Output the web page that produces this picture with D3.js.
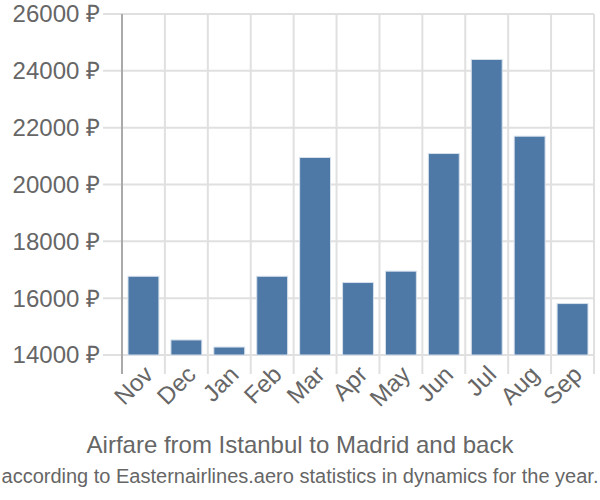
<!DOCTYPE html>
<html><head><meta charset="utf-8">
<script src="https://cdn.jsdelivr.net/npm/d3@7"></script>
<style>body{margin:0;background:#fff;} text{font-family:"Liberation Sans",Arial,sans-serif;fill:#666;}</style>
</head><body><svg id="c" width="600" height="500"></svg>
<script>
const months = ["Nov","Dec","Jan","Feb","Mar","Apr","May","Jun","Jul","Aug","Sep"];
const prices = [16770,14530,14280,16770,20950,16550,16950,21090,24400,21700,15810];
const yTicks = [14000,16000,18000,20000,22000,24000,26000];
const title = "Airfare from Istanbul to Madrid and back";
const subtitle = "according to Easternairlines.aero statistics in dynamics for the year.";

const svg = d3.select("#c");
const L=122, R=594, T=14, B=355;
const x = d3.scaleBand().domain(months).range([L,R]).paddingInner(0.28).paddingOuter(0.14);
const xg = d3.scaleBand().domain(months).range([L,R]);
const y = d3.scaleLinear().domain([14000,26000]).range([B,T]);

// horizontal grid
svg.append("g").selectAll("line").data(yTicks).join("line")
  .attr("x1",103).attr("x2",R).attr("y1",d=>y(d)).attr("y2",d=>y(d))
  .attr("stroke","#e0e0e0").attr("stroke-width",2);
// vertical grid
const vx = months.map(m=>xg(m)).concat([R]);
svg.append("g").selectAll("line").data(vx.slice(1)).join("line")
  .attr("x1",d=>d).attr("x2",d=>d).attr("y1",T).attr("y2",374)
  .attr("stroke","#e0e0e0").attr("stroke-width",2);
// left axis line
svg.append("line").attr("x1",L).attr("x2",L).attr("y1",T).attr("y2",374)
  .attr("stroke","#aaa").attr("stroke-width",2);

// bars
svg.append("g").selectAll("rect").data(months).join("rect")
  .attr("x",d=>x(d)).attr("width",x.bandwidth())
  .attr("y",(d,i)=>y(prices[i])).attr("height",(d,i)=>B-y(prices[i]))
  .attr("fill","#4e79a7").attr("stroke","#d5e0ec").attr("stroke-width",1);

// y labels
svg.append("g").selectAll("text").data(yTicks).join("text")
  .attr("x",100).attr("y",d=>y(d)).attr("dy","0.35em").attr("text-anchor","end")
  .style("font-size","24px").text(d=>d+" ₽");

// x labels
svg.append("g").selectAll("text").data(months).join("text")
  .attr("transform",d=>`translate(${xg(d)+xg.bandwidth()/2+5},${370}) rotate(-45)`)
  .attr("text-anchor","end").attr("dy","0.35em")
  .style("font-size","24px").text(d=>d);

svg.append("text").attr("x",300).attr("y",453).attr("text-anchor","middle")
  .style("font-size","24px").text(title);
svg.append("text").attr("x",300).attr("y",483).attr("text-anchor","middle")
  .style("font-size","20px").text(subtitle);
</script></body></html>
